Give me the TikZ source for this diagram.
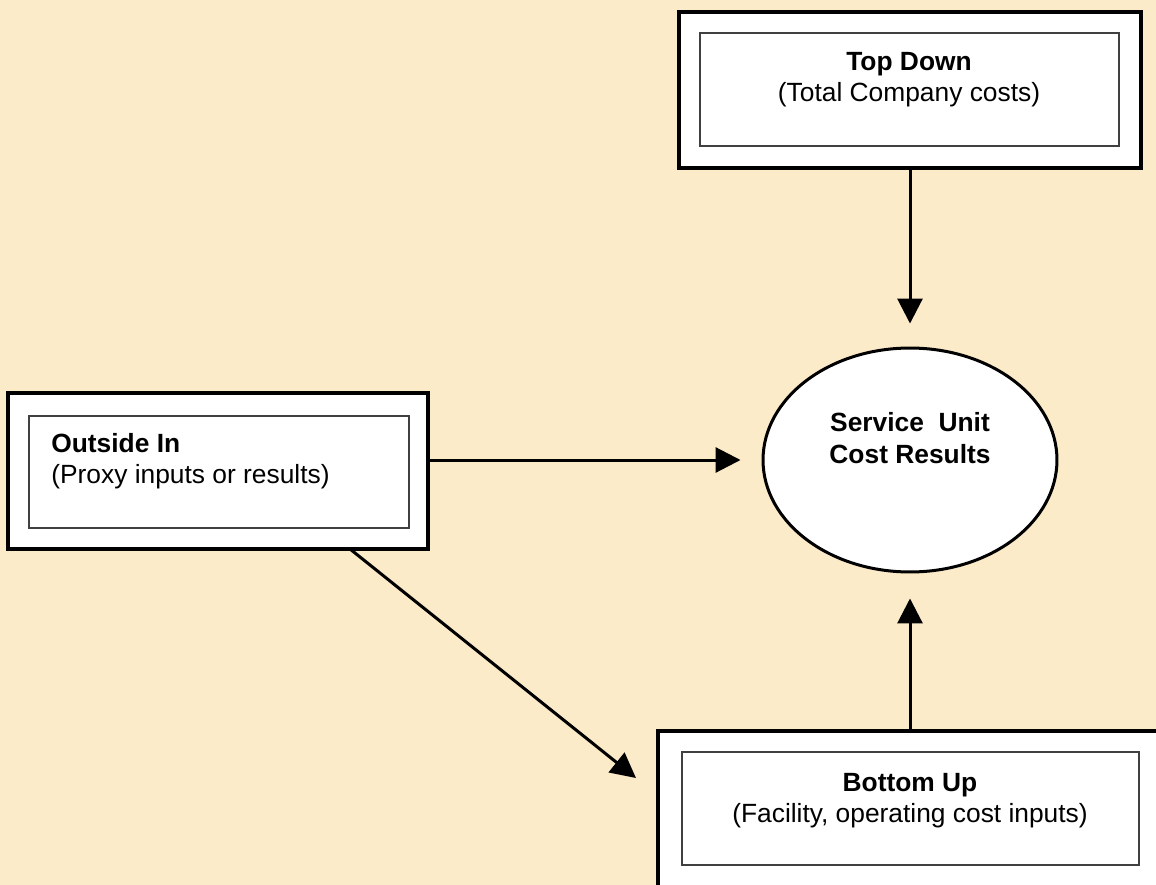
\documentclass[tikz,border=0pt]{standalone}
\usepackage{fontspec}
\setmainfont{Liberation Sans}
\usetikzlibrary{arrows.meta,shapes.geometric}
\definecolor{parchment}{HTML}{FCEBC8}

\begin{document}
\begin{tikzpicture}[x=0.02cm,y=-0.02cm,
    outerbox/.style={draw, fill=white, line width=0.08cm, inner sep=0pt},
    innerbox/.style={draw=black!75, line width=0.026cm, inner sep=0pt},
    boxtext/.style={inner sep=0pt, font=\fontsize{15}{17.5}\selectfont},
    link/.style={line width=0.06cm, -{Triangle[length=0.5cm,width=0.5cm]}}]
      \useasboundingbox (0,0) rectangle (1156,885);
      \clip (0,0) rectangle (1156,885);
      \fill[parchment] (0,0) rectangle (1156,885);

      % top down
      \node (topout) at (910,90) [outerbox, minimum width=9.24cm, minimum height=3.12cm] {};
      \node (topin) at (909.5,89.5) [innerbox, minimum width=8.38cm, minimum height=2.26cm] {};
      \node (toptext) at (909,52) [boxtext, anchor=north, align=center]
        {\textbf{Top Down}\\(Total Company costs)};

      % outside in
      \node (outout) at (218,471) [outerbox, minimum width=8.4cm, minimum height=3.12cm] {};
      \node (outin) at (219,472) [innerbox, minimum width=7.6cm, minimum height=2.24cm] {};
      \node (outtext) at (51,433) [boxtext, anchor=north west, align=left]
        {\textbf{Outside In}\\(Proxy inputs or results)};

      % bottom up
      \node (botout) at (910,809) [outerbox, minimum width=10.08cm, minimum height=3.12cm] {};
      \node (botin) at (910.5,808.5) [innerbox, minimum width=9.14cm, minimum height=2.26cm] {};
      \node (bottext) at (910,773) [boxtext, anchor=north, align=center]
        {\textbf{Bottom Up}\\(Facility, operating cost inputs)};

      % results
      \node (results) at (910,460) [draw, ellipse, fill=white, line width=0.06cm,
        inner sep=0pt, minimum width=5.88cm, minimum height=4.48cm] {};
      \node (restext) at (910,412) [boxtext, anchor=north, align=center,
        font=\fontsize{15}{18}\selectfont\bfseries] {Service\ \ Unit\\Cost Results};

      \coordinate (diagstart) at (350,549);
      \coordinate (diagend) at (636,778);
      \draw[link, shorten >=0.46cm] (topout.south) -- (results.north);
      \draw[link, shorten >=0.42cm] (outout.east |- results.west) -- (results.west);
      \draw[link, shorten >=0.5cm] (botout.north) -- (results.south);
      \draw[link] (diagstart) -- (diagend);
\end{tikzpicture}
\end{document}
